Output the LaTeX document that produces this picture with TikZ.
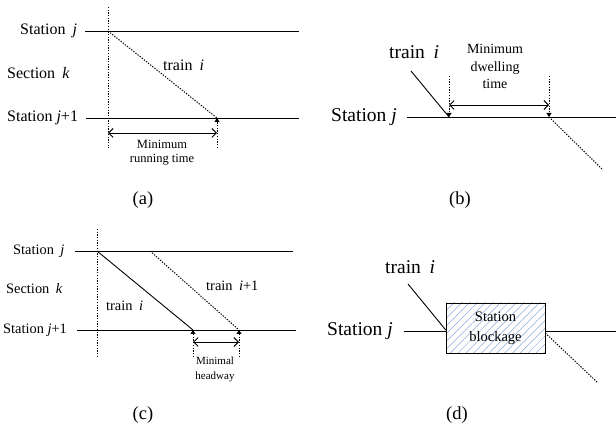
\documentclass[tikz,border=0pt]{standalone}
\usepackage{fontspec}
\setmainfont{Liberation Serif}
\usetikzlibrary{arrows.meta,positioning,patterns.meta}
\definecolor{hatch}{HTML}{8DA8DA}
\definecolor{ink}{HTML}{000000}

\tikzset{
    track/.style={draw=ink, line width=0.9pt},
    ghost/.style={draw=ink, line width=1pt, dash pattern=on 1.3pt off 1.4pt},
    tick/.style={ghost, -{Triangle[length=4pt,width=5pt]}},
    span/.style={draw=ink, line width=0.9pt,
        {Straight Barb[length=4.5pt,width=9pt]}-{Straight Barb[length=4.5pt,width=9pt]}},
    lbl/.style={inner sep=0pt, anchor=west},
    fsa/.style={font=\fontsize{16}{18}\selectfont},
    fsb/.style={font=\fontsize{19.5}{22}\selectfont},
    fsc/.style={font=\fontsize{14.4}{16}\selectfont},
    note/.style={inner sep=0pt, align=center},
    caption/.style={inner sep=0pt, font=\fontsize{18.5}{20}\selectfont}
}
\newcommand\gap{\hspace{0.45em}}

\begin{document}
\begin{tikzpicture}[x=1pt, y=-1pt]
    \useasboundingbox (0,0) rectangle (616,430);

    % (a) minimum running time
    \coordinate (aJ0) at (85,31);
    \coordinate (aJ1) at (299,31);
    \coordinate (aK0) at (86,118);
    \coordinate (aK1) at (299,118);
    \coordinate (aV0) at (108,7);
    \coordinate (aV1) at (108,148);
    \coordinate (aS) at (108,31);
    \coordinate (aT) at (217,118);
    \coordinate (aT1) at (217,148);
    \coordinate (aL) at (108,133);
    \coordinate (aR) at (217,133);
    \draw[track] (aJ0) -- (aJ1);
    \draw[track] (aK0) -- (aK1);
    \draw[ghost] (aV0) -- (aV1);
    \draw[ghost] (aS) -- (aT);
    \draw[tick] (aT1) -- (aT);
    \draw[span] (aL) -- (aR);
    \node[lbl, fsa] (aStJ) at (20,31) {Station\gap\textit{j}};
    \node[lbl, fsa] (aSec) at (7,73) {Section\gap\textit{k}};
    \node[lbl, fsa] (aStJ1) at (7,118) {Station \textit{j}+1};
    \node[lbl, fsa] (aTrain) at (163,65) {train\gap\textit{i}};
    \node[
        note,
        font=\fontsize{12.5}{14}\selectfont
    ] (aMin) at (162,153) {Minimum\\running time};
    \node[caption] (aCap) at (143,200) {(a)};

    % (b) minimum dwelling time
    \coordinate (bJ0) at (407,117);
    \coordinate (bJ1) at (616,117);
    \coordinate (bT0) at (411,71);
    \coordinate (bA) at (449,117);
    \coordinate (bB) at (549,117);
    \coordinate (bA0) at (449,76);
    \coordinate (bB0) at (549,76);
    \coordinate (bL) at (449,105);
    \coordinate (bR) at (549,105);
    \coordinate (bD) at (603,170);
    \draw[track] (bJ0) -- (bJ1);
    \draw[track] (bT0) -- (bA);
    \draw[tick] (bA0) -- (bA);
    \draw[tick] (bB0) -- (bB);
    \draw[span] (bL) -- (bR);
    \draw[ghost] (bB) -- (bD);
    \node[lbl, fsb] (bStJ) at (331,117) {Station \textit{j}};
    \node[lbl, fsb] (bTrain) at (389,52) {train\gap\textit{i}};
    \node[
        note,
        font=\fontsize{14}{17.5}\selectfont
    ] (bMin) at (495,66.5) {Minimum\\dwelling\\time};
    \node[caption] (bCap) at (460,200) {(b)};

    % (c) minimal headway
    \coordinate (cJ0) at (75,251);
    \coordinate (cJ1) at (293,251);
    \coordinate (cK0) at (77,330);
    \coordinate (cK1) at (296,330);
    \coordinate (cV0) at (97,229);
    \coordinate (cV1) at (97,357);
    \coordinate (cS) at (97,251);
    \coordinate (cS2) at (150,251);
    \coordinate (cA) at (193,330);
    \coordinate (cB) at (239,330);
    \coordinate (cA1) at (193,357);
    \coordinate (cB1) at (239,357);
    \coordinate (cL) at (193,342);
    \coordinate (cR) at (239,342);
    \draw[track] (cJ0) -- (cJ1);
    \draw[track] (cK0) -- (cK1);
    \draw[ghost] (cV0) -- (cV1);
    \draw[track] (cS) -- (cA);
    \draw[ghost] (cS2) -- (cB);
    \draw[tick] (cA1) -- (cA);
    \draw[tick] (cB1) -- (cB);
    \draw[span] (cL) -- (cR);
    \node[lbl, fsc] (cStJ) at (13,251) {Station\gap\textit{j}};
    \node[lbl, fsc] (cSec) at (6,289) {Section\gap\textit{k}};
    \node[lbl, fsc] (cStJ1) at (3,330) {Station \textit{j}+1};
    \node[lbl, fsc] (cTrain) at (106,306) {train\gap\textit{i}};
    \node[lbl, fsc] (cTrain2) at (206,286) {train\gap\textit{i}+1};
    \node[
        note,
        font=\fontsize{11}{15}\selectfont
    ] (cMin) at (215,369.5) {Minimal\\headway};
    \node[caption] (cCap) at (143,415) {(c)};

    % (d) station blockage
    \node[
        draw=ink,
        line width=0.9pt,
        minimum width=99pt,
        minimum height=50pt,
        inner sep=0pt,
        align=center,
        pattern={Lines[angle=45,distance=5.5pt,line width=0.5pt]},
        pattern color=hatch,
        font=\fontsize{14.5}{20}\selectfont
    ] (dBox) at (495.5,328) {Station\\blockage};
    \coordinate (dJ0) at (404,331);
    \coordinate (dJ1) at (616,331);
    \coordinate (dT0) at (408,284);
    \coordinate (dE) at (598,383);
    \draw[track] (dJ0) -- (dJ0 -| dBox.west);
    \draw[track] (dJ1 -| dBox.east) -- (dJ1);
    \draw[track] (dT0) -- (dBox.west |- 0,330);
    \draw[ghost] (dBox.east |- 0,333) -- (dE);
    \node[lbl, fsb] (dStJ) at (327,331) {Station \textit{j}};
    \node[lbl, fsb] (dTrain) at (385,267) {train\gap\textit{i}};
    \node[caption] (dCap) at (457,415) {(d)};
\end{tikzpicture}
\end{document}
